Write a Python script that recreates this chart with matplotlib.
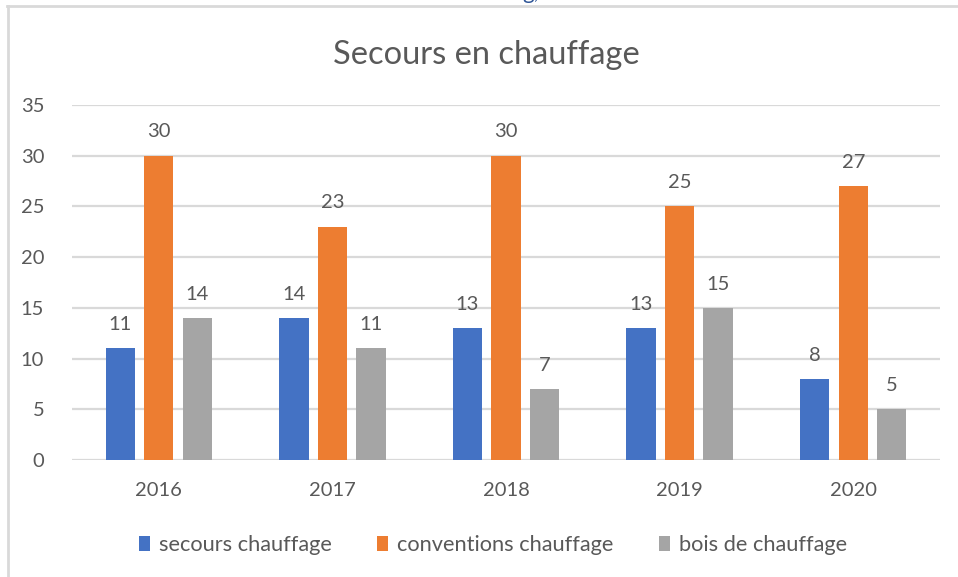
import matplotlib
matplotlib.use("Agg")
import matplotlib.pyplot as plt
from matplotlib.lines import Line2D
import numpy as np

plt.rcParams['font.family'] = ['Lato', 'DejaVu Sans']

years = ["2016", "2017", "2018", "2019", "2020"]
series_names = ["secours chauffage", "conventions chauffage", "bois de chauffage"]
secours = [11, 14, 13, 13, 8]
conventions = [30, 23, 30, 25, 27]
bois = [14, 11, 7, 15, 5]
colors = ["#4472C4", "#ED7D31", "#A5A5A5"]
yticks = [0, 5, 10, 15, 20, 25, 30, 35]
title = "Secours en chauffage"

text_color = "#595959"
grid_color = "#D9D9D9"

fig = plt.figure(figsize=(9.58, 5.77), dpi=100)
ax = fig.add_axes([72/958, 1-460/577, (940-72)/958, (460-105)/577])

x = np.arange(len(years))
offsets = [-0.222, 0.0, 0.222]
width = 0.169
handles = []
for vals, off, col, name in zip([secours, conventions, bois], offsets, colors, series_names):
    bars = ax.bar(x + off, vals, width=width, color=col, label=name, zorder=3)
    handles.append(bars)
    for xi, v in zip(x + off, vals):
        ax.annotate(str(v), (xi, v), xytext=(0, 11), textcoords="offset points",
                    ha="center", va="bottom", fontsize=14.5, color=text_color)

ax.set_xlim(-0.5, len(years) - 0.5)
ax.set_ylim(0, 35)
ax.set_yticks(yticks)
ax.set_yticklabels([str(t) for t in yticks])
ax.set_xticks(x)
ax.set_xticklabels(years)
ax.yaxis.grid(True, color=grid_color, linewidth=1.6, zorder=0)
ax.set_axisbelow(True)
for s in ax.spines.values():
    s.set_visible(False)
ax.tick_params(axis="both", length=0, labelsize=14.5, labelcolor=text_color)
ax.tick_params(axis="y", pad=20)
ax.tick_params(axis="x", pad=16)

fig.text(486/958, 1-55/577, title, ha="center", va="center", fontsize=23.5, color=text_color)

leg = fig.legend(handles=handles, labels=series_names, loc="center", bbox_to_anchor=(493/958, 1-545/577),
                 ncol=3, frameon=False, fontsize=15.7, handlelength=0.5, handleheight=0.7,
                 handletextpad=0.4, columnspacing=2.1)
for t in leg.get_texts():
    t.set_color(text_color)

# chart frame (partially visible)
fig.add_artist(Line2D([7/958, 1], [1-6/577, 1-6/577], transform=fig.transFigure, color=grid_color, linewidth=2))
fig.add_artist(Line2D([8/958, 8/958], [0, 1-6/577], transform=fig.transFigure, color=grid_color, linewidth=2))

# fragment of text cut off at the top
fig.text(531/958, 1+1/577, "g,", ha="center", va="baseline", fontsize=16, color="#2F5597")

fig.savefig("out.png", dpi=100)
